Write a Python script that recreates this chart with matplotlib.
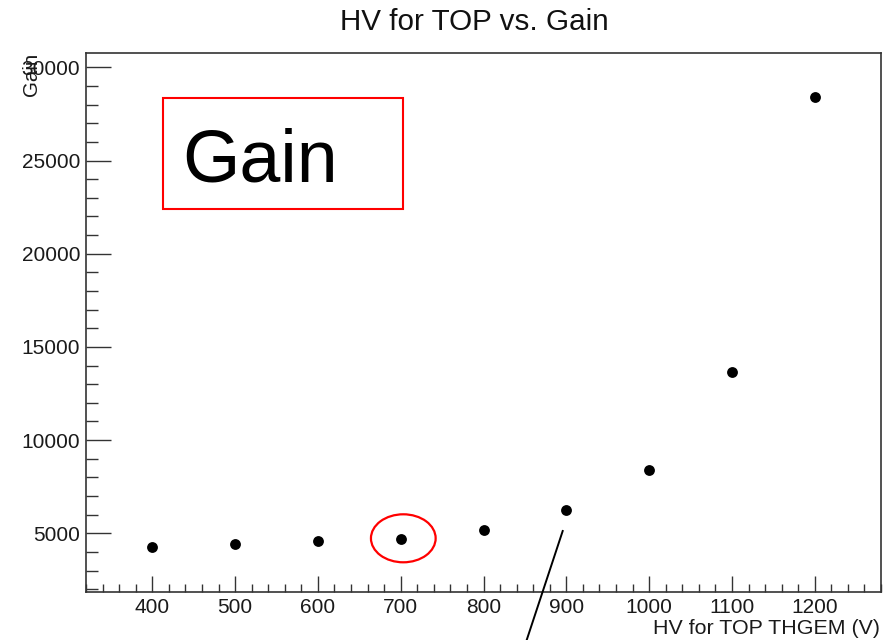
import matplotlib
matplotlib.use("Agg")
import matplotlib.pyplot as plt
from matplotlib.patches import Rectangle, Ellipse
from matplotlib.lines import Line2D
from matplotlib.ticker import MultipleLocator

# HV applied to the top THGEM (V) and the measured gain
hv_top = [400, 500, 600, 700, 800, 900, 1000, 1100, 1200]
gain = [4281, 4442, 4587, 4710, 5193, 6266, 8412, 13648, 28391]

title = "HV for TOP vs. Gain"
x_label = "HV for TOP THGEM (V)"
y_label = "Gain"
box_text = "Gain"

plt.rcParams["font.family"] = ["Liberation Sans", "DejaVu Sans"]

W, H = 889, 640
fig = plt.figure(figsize=(W / 100, H / 100), dpi=100)


def fx(x):
    return x / W


def fy(y):
    return 1 - y / H


frame_col = "#333333"
ax = fig.add_axes([fx(86), fy(592), fx(881) - fx(86), fy(53) - fy(592)])
ax.plot(hv_top, gain, linestyle="none", marker="o", markersize=7.8,
        color="black", markeredgewidth=0)

ax.set_xlim(320, 1280)
ax.set_ylim(1850, 30770)
ax.xaxis.set_major_locator(MultipleLocator(100))
ax.xaxis.set_minor_locator(MultipleLocator(20))
ax.yaxis.set_major_locator(MultipleLocator(5000))
ax.yaxis.set_minor_locator(MultipleLocator(1000))

for s in ax.spines.values():
    s.set_color(frame_col)
    s.set_linewidth(1.2)

ax.tick_params(axis="both", which="both", direction="in", color=frame_col,
               width=1.0, top=False, right=False, labelsize=15,
               labelcolor="#1a1a1a")
ax.tick_params(axis="x", which="major", length=11.5, pad=4.5)
ax.tick_params(axis="x", which="minor", length=5.8)
ax.tick_params(axis="y", which="major", length=18, pad=4.3)
ax.tick_params(axis="y", which="minor", length=8.9)

# titles and axis labels in ROOT style placement
fig.text(fx(474), fy(22), title, ha="center", va="center", fontsize=21.3,
         color="#111111")
fig.text(fx(880), fy(628), x_label, ha="right", va="center", fontsize=15.4,
         color="#1a1a1a")
fig.text(fx(31), fy(53), y_label, ha="center", va="top", rotation=90,
         fontsize=14.8, color="#1a1a1a")

# red boxed caption
fig.add_artist(Rectangle((fx(162.7), fy(209.3)), fx(403.3) - fx(162.7),
                         fy(98.3) - fy(209.3), transform=fig.transFigure,
                         fill=False, edgecolor="red", linewidth=1.5))
fig.text(fx(182), fy(181.7), box_text, ha="left", va="baseline",
         fontsize=53, color="black")

# highlight ellipse and pointer line
fig.add_artist(Ellipse((fx(403.3), fy(538.3)), fx(64.7), 48 / H,
                       transform=fig.transFigure, fill=False,
                       edgecolor="red", linewidth=1.6))
fig.add_artist(Line2D([fx(562.7), fx(526.7)], [fy(531), fy(640)],
                      transform=fig.transFigure, color="black",
                      linewidth=1.4))

fig.savefig("out.png", dpi=100)
